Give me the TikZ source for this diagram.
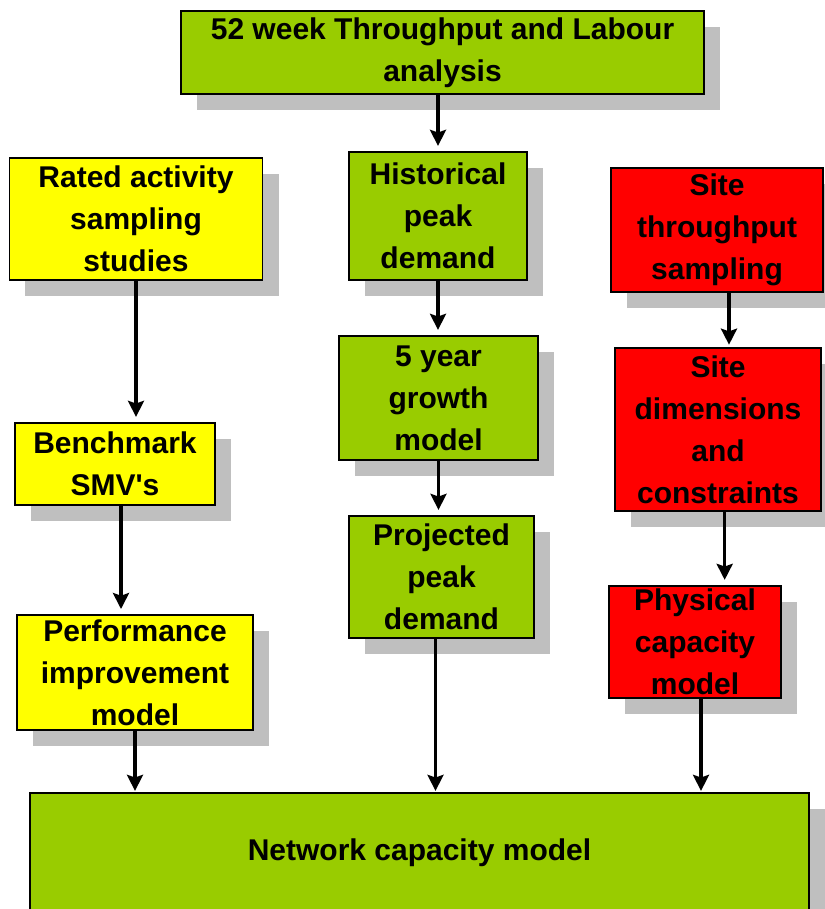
\documentclass[tikz,border=0pt]{standalone}
\usepackage{fontspec}
\setmainfont{Liberation Sans}
\usetikzlibrary{shadows,arrows.meta}
\definecolor{boxgreen}{HTML}{99CC00}
\definecolor{boxyellow}{HTML}{FFFF00}
\definecolor{boxred}{HTML}{FF0000}
\tikzset{
  box/.style={draw=black, line width=1.2pt, inner sep=0pt, align=center,
    font=\bfseries\fontsize{22.5}{31.5}\selectfont,
    drop shadow={shadow xshift=12pt, shadow yshift=-12pt, fill=black!25, opacity=1}},
  arr/.style={line width=2.6pt, -{Stealth[length=12pt,width=12pt,inset=2pt]}, shorten >=4pt}
}
\begin{document}
\begin{tikzpicture}[x=0.75pt,y=-0.75pt]
 \useasboundingbox (0,0) rectangle (824,909);
 % boxes
 \node[box, fill=boxgreen, minimum width=392pt, minimum height=62pt] (labour) at (442.5,52.5) {52 week Throughput and Labour\\analysis};
 \node[box, fill=boxyellow, minimum width=190pt, minimum height=91.5pt] (rated) at (136,219) {Rated activity\\sampling\\studies};
 \node[box, fill=boxgreen, minimum width=133.5pt, minimum height=96pt] (hist) at (438,216) {Historical\\peak\\demand};
 \node[box, fill=boxred, minimum width=159pt, minimum height=93pt] (sitetp) at (717,230) {Site\\throughput\\sampling};
 \node[box, fill=boxgreen, minimum width=149pt, minimum height=93pt] (growth) at (438.5,398) {5 year\\growth\\model};
 \node[box, fill=boxyellow, minimum width=150pt, minimum height=61.5pt] (bench) at (115,464) {Benchmark\\SMV\textquotesingle s};
 \node[box, fill=boxred, minimum width=154.5pt, minimum height=122pt] (sitedim) at (718,429.5) {Site\\dimensions\\and\\constraints};
 \node[box, fill=boxgreen, minimum width=139pt, minimum height=91.5pt] (proj) at (441.5,577) {Projected\\peak\\demand};
 \node[box, fill=boxyellow, minimum width=177pt, minimum height=86pt] (perf) at (135,672.5) {Performance\\improvement\\model};
 \node[box, fill=boxred, minimum width=129pt, minimum height=84pt] (phys) at (695,642) {Physical\\capacity\\model};
 \node[box, fill=boxgreen, minimum width=584pt, minimum height=90pt] (net) at (419.5,853) {Network capacity model};
 % arrows
 \draw[arr] (labour.south -| hist.north) -- (hist.north);
 \draw[arr] (rated.south) -- (rated.south |- bench.north);
 \draw[arr] ([xshift=4.5pt]bench.south) -- ([xshift=4.5pt]bench.south |- perf.north);
 \draw[arr] (hist.south) -- (hist.south |- growth.north);
 \draw[arr] (growth.south) -- (growth.south |- proj.north);
 \draw[arr, shorten >=1pt] ([xshift=-4.5pt]proj.south) -- ([xshift=-4.5pt]proj.south |- net.north);
 \draw[arr, shorten >=1pt] (perf.south) -- (perf.south |- net.north);
 \draw[arr, shorten >=2pt] ([xshift=9pt]sitetp.south) -- ([xshift=9pt]sitetp.south |- sitedim.north);
 \draw[arr] ([xshift=5pt]sitedim.south) -- ([xshift=5pt]sitedim.south |- phys.north);
 \draw[arr, shorten >=1pt] ([xshift=4.5pt]phys.south) -- ([xshift=4.5pt]phys.south |- net.north);
\end{tikzpicture}
\end{document}
